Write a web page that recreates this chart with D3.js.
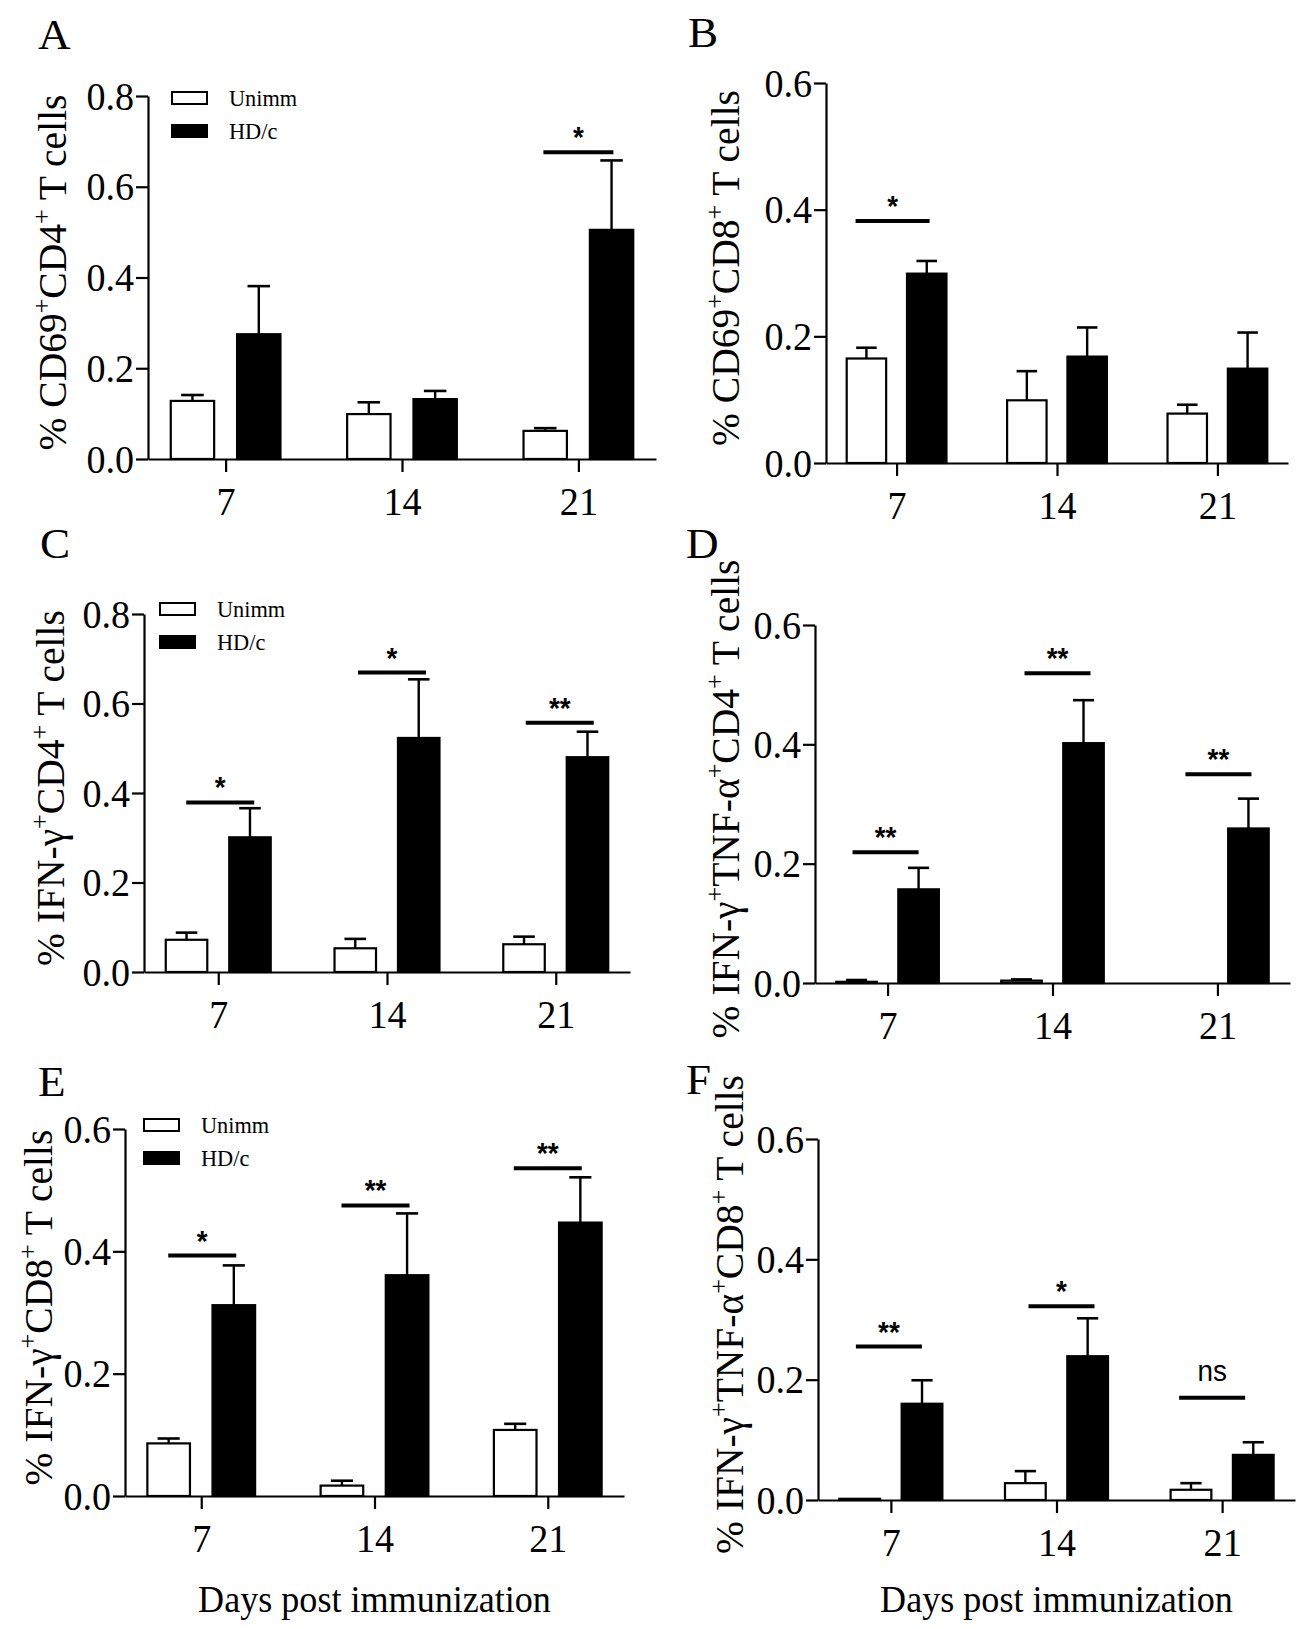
<!DOCTYPE html>
<html>
<head>
<meta charset="utf-8">
<script src="https://cdn.jsdelivr.net/npm/d3@7"></script>
<style>
body { margin: 0; background: #fff; }
svg text { font-family: "Liberation Serif", "Times New Roman", serif; fill: #000; }
</style>
</head>
<body>
<svg id="fig" width="1299" height="1629"></svg>
<script>
var days = ['7', '14', '21'];
var groups = ['Unimm', 'HD/c'];

// A: CD69+CD4+
var cd69cd4Unimm = [0.128, 0.099, 0.062];
var cd69cd4UnimmSem = [0.013, 0.026, 0.006];
var cd69cd4Hd = [0.275, 0.132, 0.505];
var cd69cd4HdSem = [0.106, 0.018, 0.153];
var cd69cd4Sig = ['', '', '*'];
var cd69cd4SigY = [null, null, 0.676];

// B: CD69+CD8+
var cd69cd8Unimm = [0.165, 0.099, 0.078];
var cd69cd8UnimmSem = [0.017, 0.046, 0.014];
var cd69cd8Hd = [0.299, 0.168, 0.149];
var cd69cd8HdSem = [0.020, 0.046, 0.057];
var cd69cd8Sig = ['*', '', ''];
var cd69cd8SigY = [0.382, null, null];

// C: IFN-g+CD4+
var ifnCd4Unimm = [0.072, 0.053, 0.062];
var ifnCd4UnimmSem = [0.016, 0.021, 0.017];
var ifnCd4Hd = [0.301, 0.523, 0.480];
var ifnCd4HdSem = [0.065, 0.131, 0.057];
var ifnCd4Sig = ['*', '*', '**'];
var ifnCd4SigY = [0.379, 0.669, 0.557];

// D: IFN-g+TNF-a+CD4+
var dualCd4Unimm = [0.002, 0.004, 0];
var dualCd4UnimmSem = [0.003, 0.002, 0];
var dualCd4Hd = [0.157, 0.402, 0.259];
var dualCd4HdSem = [0.036, 0.072, 0.050];
var dualCd4Sig = ['**', '**', '**'];
var dualCd4SigY = [0.219, 0.519, 0.350];

// E: IFN-g+CD8+
var ifnCd8Unimm = [0.086, 0.017, 0.108];
var ifnCd8UnimmSem = [0.008, 0.008, 0.010];
var ifnCd8Hd = [0.312, 0.361, 0.447];
var ifnCd8HdSem = [0.065, 0.101, 0.074];
var ifnCd8Sig = ['*', '**', '**'];
var ifnCd8SigY = [0.393, 0.475, 0.536];

// F: IFN-g+TNF-a+CD8+
var dualCd8Unimm = [0.002, 0.028, 0.017];
var dualCd8UnimmSem = [0, 0.020, 0.011];
var dualCd8Hd = [0.160, 0.239, 0.075];
var dualCd8HdSem = [0.039, 0.063, 0.021];
var dualCd8Sig = ['**', '*', 'ns'];
var dualCd8SigY = [0.255, 0.322, 0.170];

var xTitle = 'Days post immunization';

// layout per panel (pixels), kept apart from the values above
var panels = [
    {letter: 'A', title: '% CD69^CD4^ T cells', yMax: 0.8,
     unimm: cd69cd4Unimm, unimmSem: cd69cd4UnimmSem, hd: cd69cd4Hd, hdSem: cd69cd4HdSem,
     sig: cd69cd4Sig, sigY: cd69cd4SigY, sigShift: [0, 0, 0], sigHalf: 35,
     axisX: 148, xEnd: 656, y0: 459, yTop: 96, letterPos: [38, 49], titleX: 66,
     legend: [172, 92], xTitle: false},
    {letter: 'B', title: '% CD69^CD8^ T cells', yMax: 0.6,
     unimm: cd69cd8Unimm, unimmSem: cd69cd8UnimmSem, hd: cd69cd8Hd, hdSem: cd69cd8HdSem,
     sig: cd69cd8Sig, sigY: cd69cd8SigY, sigShift: [-4, 0, 0], sigHalf: 37,
     axisX: 826, xEnd: 1288, y0: 463, yTop: 83, letterPos: [688, 47], titleX: 739,
     legend: null, xTitle: false},
    {letter: 'C', title: '% IFN-\u03b3^CD4^ T cells', yMax: 0.8,
     unimm: ifnCd4Unimm, unimmSem: ifnCd4UnimmSem, hd: ifnCd4Hd, hdSem: ifnCd4HdSem,
     sig: ifnCd4Sig, sigY: ifnCd4SigY, sigShift: [2, 5, 4], sigHalf: 34,
     axisX: 144, xEnd: 630, y0: 972, yTop: 614, letterPos: [40, 558], titleX: 64,
     legend: [160, 603], xTitle: false},
    {letter: 'D', title: '% IFN-\u03b3^TNF-\u03b1^CD4^ T cells', yMax: 0.6,
     unimm: dualCd4Unimm, unimmSem: dualCd4UnimmSem, hd: dualCd4Hd, hdSem: dualCd4HdSem,
     sig: dualCd4Sig, sigY: dualCd4SigY, sigShift: [-2, 5, 1], sigHalf: 33,
     axisX: 815, xEnd: 1290, y0: 983, yTop: 625, letterPos: [686, 558], titleX: 739,
     legend: null, xTitle: false},
    {letter: 'E', title: '% IFN-\u03b3^CD8^ T cells', yMax: 0.6,
     unimm: ifnCd8Unimm, unimmSem: ifnCd8UnimmSem, hd: ifnCd8Hd, hdSem: ifnCd8HdSem,
     sig: ifnCd8Sig, sigY: ifnCd8SigY, sigShift: [1, 1, 0], sigHalf: 34,
     axisX: 125, xEnd: 624, y0: 1496, yTop: 1129, letterPos: [38, 1096], titleX: 52,
     legend: [144, 1119], xTitle: true},
    {letter: 'F', title: '% IFN-\u03b3^TNF-\u03b1^CD8^ T cells', yMax: 0.6,
     unimm: dualCd8Unimm, unimmSem: dualCd8UnimmSem, hd: dualCd8Hd, hdSem: dualCd8HdSem,
     sig: dualCd8Sig, sigY: dualCd8SigY, sigShift: [-2, 5, -10], sigHalf: 33,
     axisX: 818, xEnd: 1295, y0: 1500, yTop: 1139, letterPos: [686, 1094], titleX: 743,
     legend: null, xTitle: true}
];

// horizontal text in the figure looks a little narrow, so squeeze it slightly
var squeeze = 0.93;

var svg = d3.select('#fig');
svg.append('rect').attr('width', 1299).attr('height', 1629).attr('fill', '#fff');

function styleAxis(g) {
    g.attr('font-family', null).attr('font-size', null);
    g.selectAll('path, line').attr('stroke', '#000').attr('stroke-width', 2.2);
    g.selectAll('text').style('font-size', '41px')
        .attr('transform', 'scale(' + squeeze + ',1)');
}

function narrowText(parent, x, y, size, sq) {
    return parent.append('text')
        .attr('transform', 'translate(' + x + ',' + y + ') scale(' + (sq || squeeze) + ',1)')
        .style('font-size', size + 'px');
}

panels.forEach(function(p) {
    var g = svg.append('g').attr('class', 'panel-' + p.letter);
    var x = d3.scalePoint().domain(days).range([p.axisX, p.xEnd]).padding(0.44);
    var y = d3.scaleLinear().domain([0, p.yMax]).range([p.y0, p.yTop]);
    var step = x.step();
    var sub = d3.scaleBand().domain(groups).range([-0.311 * step, 0.311 * step]).paddingInner(0.346);
    var bw = sub.bandwidth();
    var capW = bw * 0.52;

    // bars + error bars
    days.forEach(function(d, i) {
        groups.forEach(function(grp) {
            var v = grp == 'Unimm' ? p.unimm[i] : p.hd[i];
            var sem = grp == 'Unimm' ? p.unimmSem[i] : p.hdSem[i];
            var bx = x(d) + sub(grp);
            var cx = bx + bw / 2;
            if (sem > 0) {
                g.append('line')
                    .attr('x1', cx).attr('x2', cx)
                    .attr('y1', y(v)).attr('y2', y(v + sem))
                    .attr('stroke', '#000').attr('stroke-width', 2.4);
                g.append('line')
                    .attr('x1', cx - capW / 2).attr('x2', cx + capW / 2)
                    .attr('y1', y(v + sem)).attr('y2', y(v + sem))
                    .attr('stroke', '#000').attr('stroke-width', 2.6);
            }
            if (v > 0) {
                g.append('rect')
                    .attr('x', bx).attr('y', y(v))
                    .attr('width', bw).attr('height', p.y0 - y(v))
                    .attr('fill', grp == 'Unimm' ? '#fff' : '#000')
                    .attr('stroke', '#000').attr('stroke-width', 2.2);
            }
        });
        // significance bar and mark
        if (p.sig[i]) {
            var ly = y(p.sigY[i]);
            var sx = x(d) + p.sigShift[i];
            g.append('line')
                .attr('x1', sx - p.sigHalf).attr('x2', sx + p.sigHalf)
                .attr('y1', ly).attr('y2', ly)
                .attr('stroke', '#000').attr('stroke-width', 4);
            var isNs = p.sig[i] == 'ns';
            narrowText(g, sx, isNs ? ly - 17 : ly - 5, 30)
                .attr('text-anchor', 'middle')
                .style('font-family', '"Liberation Sans", Arial, sans-serif')
                .style('font-weight', isNs ? 'normal' : 'bold')
                .text(p.sig[i]);
        }
    });

    // axes
    var yTicks = d3.range(0, p.yMax + 0.001, 0.2);
    g.append('g')
        .attr('transform', 'translate(' + p.axisX + ',0)')
        .call(d3.axisLeft(y).tickValues(yTicks).tickFormat(d3.format('.1f'))
            .tickSize(12).tickSizeOuter(0).tickPadding(3))
        .call(styleAxis);
    g.append('g')
        .attr('transform', 'translate(0,' + p.y0 + ')')
        .call(d3.axisBottom(x).tickSize(13).tickSizeOuter(0).tickPadding(14))
        .call(styleAxis);

    // panel letter
    narrowText(g, p.letterPos[0], p.letterPos[1], 43, 1.05).text(p.letter);

    // y title with superscript plus signs
    var cy = (p.y0 + p.yTop) / 2 - 5;
    var t = g.append('text')
        .attr('transform', 'translate(' + p.titleX + ',' + cy + ') rotate(-90)')
        .attr('text-anchor', 'middle')
        .style('font-size', '39.5px');
    var parts = p.title.split('^');
    parts.forEach(function(s, k) {
        t.append('tspan').attr('dy', k == 0 ? 0 : 16).text(s);
        if (k < parts.length - 1) {
            t.append('tspan').attr('dy', -16).style('font-size', '26px').text('+');
        }
    });

    // legend
    if (p.legend) {
        groups.forEach(function(grp, k) {
            var ly = p.legend[1] + k * 33;
            g.append('rect')
                .attr('x', p.legend[0]).attr('y', ly)
                .attr('width', 35).attr('height', 12)
                .attr('fill', grp == 'Unimm' ? '#fff' : '#000')
                .attr('stroke', '#000').attr('stroke-width', 2);
            narrowText(g, p.legend[0] + 57, ly + 6, 24)
                .attr('dy', '0.35em')
                .text(grp);
        });
    }

    if (p.xTitle) {
        narrowText(g, x('14'), 1612, 38, 0.95)
            .attr('text-anchor', 'middle')
            .text(xTitle);
    }
});
</script>
</body>
</html>
